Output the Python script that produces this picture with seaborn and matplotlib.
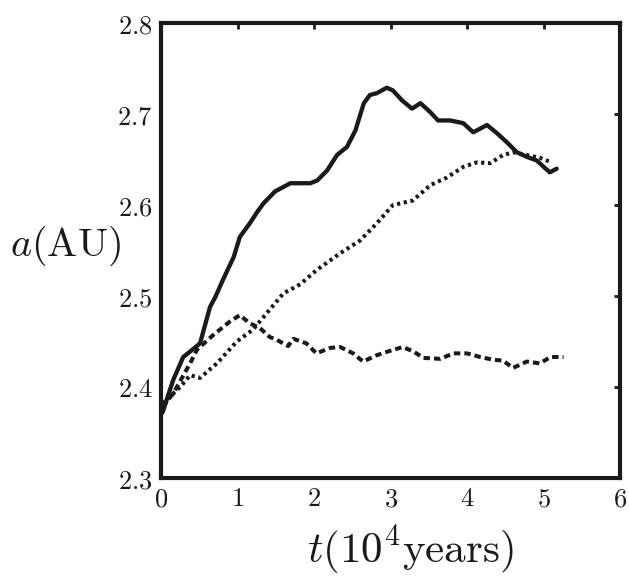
import matplotlib
matplotlib.use("Agg")
import matplotlib.pyplot as plt
import seaborn as sns
import pandas as pd

# --- data ---
t_solid = [0.02, 0.16, 0.29, 0.38, 0.51, 0.64, 0.71, 0.81, 0.95, 1.03, 1.16, 1.27, 1.34, 1.49,
           1.69, 1.82, 1.95, 2.04, 2.17, 2.30, 2.43, 2.54, 2.65, 2.73, 2.82, 2.95, 3.03, 3.15,
           3.28, 3.39, 3.52, 3.62, 3.78, 3.95, 4.08, 4.26, 4.39, 4.52, 4.65, 4.78, 4.91, 5.00,
           5.08, 5.17]
a_solid = [2.372, 2.408, 2.433, 2.439, 2.448, 2.488, 2.499, 2.518, 2.543, 2.565, 2.580, 2.594,
           2.602, 2.615, 2.624, 2.624, 2.624, 2.627, 2.638, 2.655, 2.664, 2.682, 2.712, 2.721,
           2.723, 2.729, 2.726, 2.715, 2.706, 2.712, 2.702, 2.693, 2.693, 2.690, 2.680, 2.688,
           2.679, 2.669, 2.658, 2.653, 2.649, 2.642, 2.636, 2.640]

t_dotted = [0.02, 0.25, 0.38, 0.51, 0.73, 0.99, 1.20, 1.47, 1.60, 1.82, 2.04, 2.34, 2.60, 2.82,
            3.03, 3.29, 3.52, 3.73, 3.95, 4.13, 4.30, 4.47, 4.60, 4.78, 4.95, 5.10]
a_dotted = [2.382, 2.400, 2.413, 2.410, 2.426, 2.450, 2.463, 2.490, 2.503, 2.513, 2.529, 2.547,
            2.561, 2.580, 2.600, 2.605, 2.622, 2.630, 2.642, 2.647, 2.646, 2.655, 2.658, 2.655,
            2.652, 2.647]

t_dashed = [0.02, 0.16, 0.38, 0.47, 0.68, 0.90, 1.03, 1.16, 1.29, 1.42, 1.51, 1.66, 1.73, 1.90,
            2.03, 2.21, 2.34, 2.51, 2.64, 2.82, 3.00, 3.16, 3.30, 3.43, 3.65, 3.82, 4.00, 4.17,
            4.34, 4.47, 4.60, 4.78, 4.95, 5.09, 5.26]
a_dashed = [2.378, 2.393, 2.426, 2.441, 2.457, 2.472, 2.479, 2.470, 2.465, 2.455, 2.452, 2.445,
            2.453, 2.448, 2.437, 2.443, 2.444, 2.437, 2.428, 2.435, 2.440, 2.444, 2.439, 2.432,
            2.431, 2.437, 2.437, 2.433, 2.430, 2.429, 2.421, 2.428, 2.426, 2.433, 2.433]

x_ticks = [0, 1, 2, 3, 4, 5, 6]
y_ticks = [2.3, 2.4, 2.5, 2.6, 2.7, 2.8]

sns.set_style("white")
plt.rcParams["mathtext.fontset"] = "cm"
plt.rcParams["font.family"] = ["DejaVu Serif"]

fig = plt.figure(figsize=(6.29, 5.78), dpi=100)
ax = fig.add_axes([0.256, 0.173, 0.730, 0.787])

col = "#1a1a1a"
sns.lineplot(x=t_solid, y=a_solid, ax=ax, color=col, lw=3.1, sort=False)
sns.lineplot(x=t_dotted, y=a_dotted, ax=ax, color=col, lw=2.9, sort=False,
             linestyle=(0, (0.8, 0.9)))
sns.lineplot(x=t_dashed, y=a_dashed, ax=ax, color=col, lw=2.9, sort=False,
             linestyle=(0, (1.6, 1.0)))

ax.set_xlim(0, 6)
ax.set_ylim(2.3, 2.8)
ax.set_xticks(x_ticks)
ax.set_yticks(y_ticks)
ax.set_xticklabels([f"${v}$" for v in x_ticks])
ax.set_yticklabels([f"${v:.1f}$" for v in y_ticks])
ax.tick_params(axis="both", which="major", direction="in", length=4, width=2.0,
               labelsize=19, top=True, right=True, color=col, labelcolor=col)
ax.tick_params(axis="x", pad=6)
ax.tick_params(axis="y", pad=6)
for s in ax.spines.values():
    s.set_linewidth(3.0)
    s.set_color(col)
    s.set_visible(True)

ax.set_ylabel(r"$a(\mathrm{AU})$", fontsize=29, rotation=0, ha="center", va="center", color=col)
ax.yaxis.set_label_coords(-0.207, 0.51)
ax.set_xlabel(r"$t(10^4\mathrm{years})$", fontsize=31, ha="center", va="center", color=col)
ax.xaxis.set_label_coords(0.543, -0.158)
ax.grid(False)

fig.savefig("out.png", dpi=100)
